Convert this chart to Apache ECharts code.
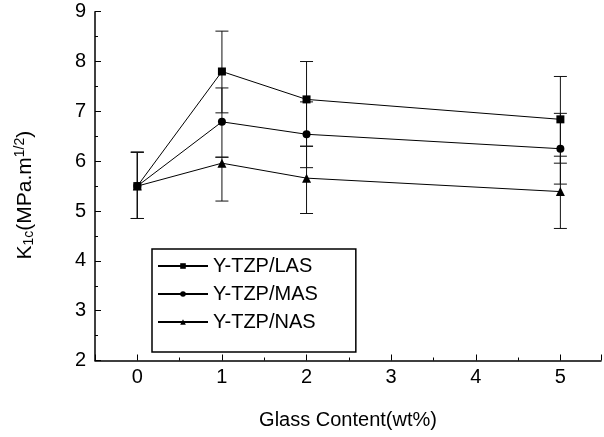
<!DOCTYPE html>
<html><head><meta charset="utf-8">
<script src="https://cdn.jsdelivr.net/npm/echarts@6/dist/echarts.min.js"></script>
<style>html,body{margin:0;padding:0;background:#fff}#c{width:604px;height:437px}</style>
</head><body><div id="c"></div>
<script>
const glassContent = [0, 1, 2, 5];
const xTickLabels = [0, 1, 2, 3, 4, 5];
const seriesNames = ['Y-TZP/LAS', 'Y-TZP/MAS', 'Y-TZP/NAS'];
const lasValues = [5.50, 7.80, 7.24, 6.84];
const masValues = [5.50, 6.79, 6.54, 6.25];
const nasValues = [5.50, 5.96, 5.66, 5.39];
const lasLow  = [4.85, 6.97, 6.30, 5.96];
const lasHigh = [6.18, 8.61, 8.00, 7.70];
const masLow  = [4.85, 6.08, 5.87, 5.54];
const masHigh = [6.18, 7.47, 7.19, 6.96];
const nasLow  = [4.85, 5.20, 4.95, 4.65];
const nasHigh = [6.18, 6.08, 6.30, 6.10];

const FONT = "'Liberation Sans', Arial, sans-serif";
const chart = echarts.init(document.getElementById('c'), null, {renderer: 'canvas'});

function pts(vals) { return glassContent.map((x, i) => [x, vals[i]]); }
function errs(lo, hi) { return glassContent.map((x, i) => [x, lo[i], hi[i]]); }

function errSeries(lo, hi) {
  return {
    type: 'custom', z: 1, silent: true,
    data: errs(lo, hi),
    encode: {x: 0, y: [1, 2]},
    renderItem(params, api) {
      const x = api.value(0), l = api.value(1), h = api.value(2);
      const a = api.coord([x, l]), b = api.coord([x, h]);
      const hw = 6.5, st = {stroke: '#111', lineWidth: 1};
      return {type: 'group', children: [
        {type: 'line', shape: {x1: a[0], y1: a[1], x2: b[0], y2: b[1]}, style: st},
        {type: 'line', shape: {x1: a[0] - hw, y1: a[1], x2: a[0] + hw, y2: a[1]}, style: st},
        {type: 'line', shape: {x1: b[0] - hw, y1: b[1], x2: b[0] + hw, y2: b[1]}, style: st}
      ]};
    }
  };
}

function lineSeries(name, vals, symbol, size) {
  return {
    name, type: 'line', z: 3, data: pts(vals), symbol, symbolSize: size,
    lineStyle: {color: '#000', width: 1},
    itemStyle: {color: '#000'},
    showSymbol: true, animation: false
  };
}

chart.setOption({
  animation: false,
  backgroundColor: '#fff',
  grid: {left: 95, right: 0, top: 11.7, bottom: 76.5, containLabel: false},
  xAxis: {
    type: 'value', min: -0.5, max: 5.48,
    axisLine: {show: true, onZero: false, lineStyle: {color: '#000', width: 1.5}},
    axisTick: {show: true, inside: true, length: 6, lineStyle: {color: '#000', width: 1}},
    minorTick: {show: true, splitNumber: 2, length: 3, lineStyle: {color: '#000', width: 1}},
    splitLine: {show: false},
    axisLabel: {
      color: '#000', fontSize: 20, fontFamily: FONT, margin: 7,
      formatter: v => xTickLabels.includes(v) ? String(Math.abs(v)) : ''
    },
    name: 'Glass Content(wt%)', nameLocation: 'middle', nameGap: 50,
    nameTextStyle: {color: '#000', fontSize: 20, fontFamily: FONT}
  },
  yAxis: {
    type: 'value', min: 2, max: 9, interval: 1,
    axisLine: {show: true, onZero: false, lineStyle: {color: '#000', width: 1.5}},
    axisTick: {show: true, inside: true, length: 6, lineStyle: {color: '#000', width: 1}},
    minorTick: {show: true, splitNumber: 2, length: 3, lineStyle: {color: '#000', width: 1}},
    splitLine: {show: false},
    axisLabel: {color: '#000', fontSize: 20, fontFamily: FONT, margin: 9},
    name: '{b|K}{s|1c}{b|(MPa.m}{p|1/2}{e|)}',
    nameLocation: 'middle', nameGap: 58, nameRotate: 90,
    nameTextStyle: {
      color: '#000', fontFamily: FONT,
      rich: {
        b: {fontSize: 21, color: '#000', fontFamily: FONT},
        e: {fontSize: 21, color: '#000', fontFamily: FONT, padding: [0, 18, 0, 0]},
        s: {fontSize: 14, color: '#000', fontFamily: FONT, padding: [9, 0, 0, 0]},
        p: {fontSize: 14, color: '#000', fontFamily: FONT, padding: [0, 0, 10, 0]}
      }
    }
  },
  legend: {
    orient: 'vertical', left: 152, top: 249,
    data: seriesNames,
    itemWidth: 50, itemHeight: 7, itemGap: 8,
    padding: [7, 38, 20, 5],
    borderColor: '#000', borderWidth: 1.5,
    textStyle: {color: '#000', fontSize: 20, fontFamily: FONT},
    selectedMode: false
  },
  series: [
    errSeries(lasLow, lasHigh),
    errSeries(masLow, masHigh),
    errSeries(nasLow, nasHigh),
    lineSeries(seriesNames[0], lasValues, 'rect', 8),
    lineSeries(seriesNames[1], masValues, 'circle', 8),
    lineSeries(seriesNames[2], nasValues, 'triangle', 9)
  ]
});
</script></body></html>
